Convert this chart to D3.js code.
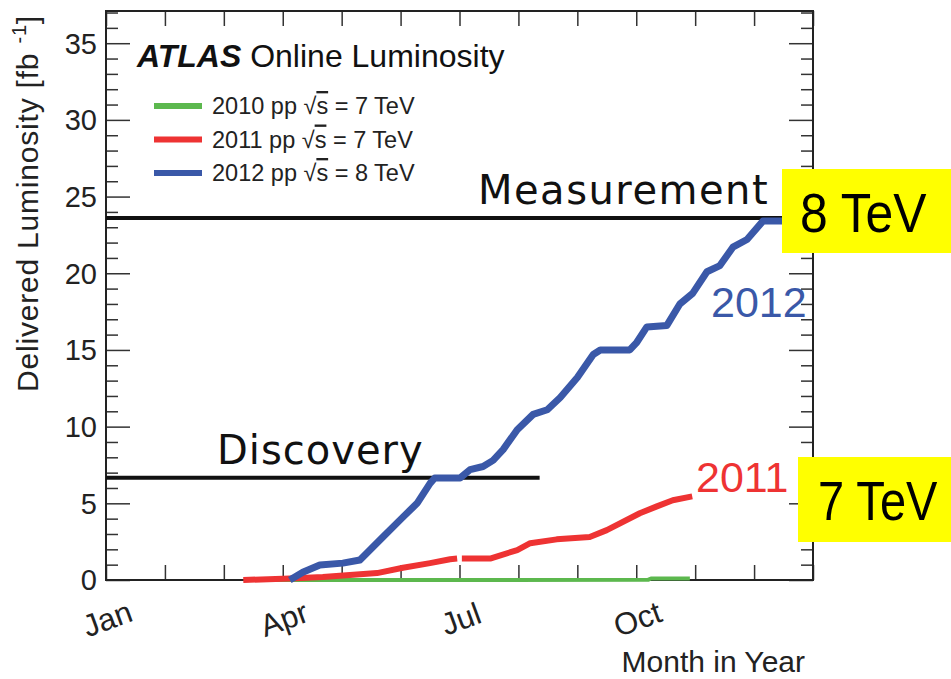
<!DOCTYPE html>
<html>
<head>
<meta charset="utf-8">
<script src="https://cdn.jsdelivr.net/npm/d3@7"></script>
<style>
  body { margin: 0; background: #fff; }
  svg text { font-family: "Liberation Sans", Arial, sans-serif; }
</style>
</head>
<body>
<script>
// delivered luminosity per year, x in months since Jan 1, y in fb^-1
// (null marks a gap in the curve)
var lumi2010 = [[2.90, 0], [5.0, 0], [9.20, 0.01], [9.25, 0.1], [9.91, 0.1]];
var lumi2011 = [[2.33, 0], [3.12, 0.1], [3.68, 0.2], [4.60, 0.45], [5.04, 0.8], [5.50, 1.1],
  [5.84, 1.35], [5.96, 1.4], null, [6.04, 1.4], [6.52, 1.4], [6.98, 1.95], [7.20, 2.4],
  [7.65, 2.65], [8.21, 2.8], [8.50, 3.25], [9.06, 4.35], [9.35, 4.8], [9.62, 5.2], [9.95, 5.45]];
var lumi2012 = [[3.12, 0], [3.34, 0.5], [3.63, 0.98], [4.02, 1.1], [4.31, 1.3], [4.70, 2.8],
  [5.04, 4.1], [5.28, 5.0], [5.50, 6.3], [5.58, 6.65], [6.01, 6.65], [6.18, 7.2], [6.40, 7.4],
  [6.57, 7.8], [6.74, 8.5], [6.98, 9.8], [7.25, 10.8], [7.49, 11.1], [7.71, 11.9], [8.00, 13.2],
  [8.27, 14.7], [8.39, 15.0], [8.89, 15.0], [9.01, 15.5], [9.18, 16.5], [9.52, 16.6], [9.74, 18.0],
  [9.96, 18.7], [10.20, 20.1], [10.42, 20.5], [10.64, 21.7], [10.88, 22.2], [11.15, 23.4], [11.52, 23.4]];

var legendLabels = ["2010 pp ", "2011 pp ", "2012 pp "];
var legendEnergy = [" = 7 TeV", " = 7 TeV", " = 8 TeV"];
var monthLabels = ["Jan", "Apr", "Jul", "Oct"];
var monthLabelPos = [0, 3, 6, 9];
var yMajor = [0, 5, 10, 15, 20, 25, 30, 35];

// reference lines: [name, level, end month]
var marks = [["Measurement", 23.6, 11.6], ["Discovery", 6.67, 7.36]];
var boxLabels = ["8 TeV", "7 TeV"];

var w = 951, h = 679;
var plotLeft = 106, plotRight = 813, plotTop = 11, plotBottom = 580;

var svg = d3.select("body").append("svg")
  .attr("width", w)
  .attr("height", h);

var x = d3.scaleLinear().domain([0, 12]).range([plotLeft, plotRight]);
var y = d3.scaleLinear().domain([0, 37.1]).range([plotBottom, plotTop]);

// ticks on all four sides
function styleTicks(g) {
  g.select(".domain").remove();
  g.selectAll("line").attr("stroke", "#333").attr("stroke-width", 1.5);
}

var yTicks = d3.range(0, 38);
svg.append("g")
  .attr("transform", "translate(" + plotLeft + ",0)")
  .call(d3.axisLeft(y).tickValues(yTicks).tickSize(0).tickFormat(""))
  .call(styleTicks)
  .selectAll(".tick line")
  .attr("x2", function(d) { return d % 5 == 0 ? 24 : 12; });

svg.append("g")
  .attr("transform", "translate(" + plotRight + ",0)")
  .call(d3.axisRight(y).tickValues(yTicks).tickSize(0).tickFormat(""))
  .call(styleTicks)
  .selectAll(".tick line")
  .attr("x2", function(d) { return d % 5 == 0 ? -24 : -12; });

svg.append("g")
  .attr("transform", "translate(0," + plotBottom + ")")
  .call(d3.axisBottom(x).ticks(12).tickSize(-15).tickFormat(""))
  .call(styleTicks);

svg.append("g")
  .attr("transform", "translate(0," + plotTop + ")")
  .call(d3.axisTop(x).ticks(12).tickSize(-15).tickFormat(""))
  .call(styleTicks);

// frame
svg.append("rect")
  .attr("x", plotLeft).attr("y", plotTop)
  .attr("width", plotRight - plotLeft).attr("height", plotBottom - plotTop)
  .attr("fill", "none")
  .attr("stroke", "#222")
  .attr("stroke-width", 2);

// y tick labels
svg.selectAll(".ylab")
  .data(yMajor)
  .enter().append("text")
  .attr("x", 97)
  .attr("y", function(d) { return y(d); })
  .attr("dy", "0.36em")
  .attr("text-anchor", "end")
  .style("font-size", "29px")
  .attr("fill", "#222")
  .text(function(d) { return d; });

// x tick labels, slanted
svg.selectAll(".xlab")
  .data(monthLabels)
  .enter().append("text")
  .attr("transform", function(d, i) {
    return "translate(" + (x(monthLabelPos[i]) + 5) + ",629) rotate(-20)";
  })
  .attr("text-anchor", "middle")
  .style("font-size", "31px")
  .attr("fill", "#222")
  .text(function(d) { return d; });

svg.append("text")
  .attr("x", 805).attr("y", 672)
  .attr("text-anchor", "end")
  .style("font-size", "30px")
  .attr("fill", "#222")
  .text("Month in Year");

// y axis title
var yTitle = svg.append("text")
  .attr("transform", "translate(38,392) rotate(-90)")
  .style("font-size", "30px")
  .style("letter-spacing", "0.8px")
  .attr("fill", "#222");
yTitle.append("tspan").text("Delivered Luminosity [fb ");
yTitle.append("tspan").attr("dy", -12).style("font-size", "20px").text("-1");
yTitle.append("tspan").attr("dy", 12).text("]");

// ATLAS title
var title = svg.append("text")
  .attr("x", 137).attr("y", 67)
  .style("font-size", "32px")
  .attr("fill", "#111");
title.append("tspan").style("font-weight", "bold").style("font-style", "italic").text("ATLAS");
title.append("tspan").text(" Online Luminosity");

// curves
var line = d3.line()
  .defined(function(d) { return d != null; })
  .x(function(d) { return x(d[0]); })
  .y(function(d) { return y(d[1]); });

var series = [lumi2010, lumi2011, lumi2012];
var colors = ["#5cb84e", "#ee3333", "#3a58a8"];
var widths = [4, 6, 7];

// reference lines
svg.selectAll(".mark")
  .data(marks)
  .enter().append("line")
  .attr("x1", x(0)).attr("x2", function(d) { return x(d[2]); })
  .attr("y1", function(d) { return y(d[1]); })
  .attr("y2", function(d) { return y(d[1]); })
  .attr("stroke", "#111")
  .attr("stroke-width", 4);

svg.selectAll(".curve")
  .data(series)
  .enter().append("path")
  .attr("d", line)
  .attr("fill", "none")
  .attr("stroke", function(d, i) { return colors[i]; })
  .attr("stroke-width", function(d, i) { return widths[i]; })
  .attr("stroke-linejoin", "round");

// annotation text over the lines
svg.append("text")
  .attr("x", 478).attr("y", 204)
  .style("font-family", "'Comic Sans MS', 'DejaVu Sans', sans-serif")
  .style("font-size", "40px")
  .style("letter-spacing", "1.5px")
  .attr("fill", "#111")
  .text(marks[0][0]);

svg.append("text")
  .attr("x", 217).attr("y", 464)
  .style("font-family", "'Comic Sans MS', 'DejaVu Sans', sans-serif")
  .style("font-size", "40px")
  .style("letter-spacing", "1px")
  .attr("fill", "#111")
  .text(marks[1][0]);

svg.append("text")
  .attr("x", 711).attr("y", 317)
  .style("font-size", "43px")
  .attr("fill", colors[2])
  .text("2012");

svg.append("text")
  .attr("x", 696).attr("y", 492)
  .style("font-size", "43px")
  .attr("fill", colors[1])
  .text("2011");

// legend
var legend = svg.selectAll(".legend")
  .data(legendLabels)
  .enter().append("g")
  .attr("transform", function(d, i) { return "translate(154," + (106 + i * 33.5) + ")"; });

legend.append("line")
  .attr("x1", 0).attr("x2", 48)
  .attr("stroke", function(d, i) { return colors[i]; })
  .attr("stroke-width", 6);

var lt = legend.append("text")
  .attr("x", 58).attr("y", 8)
  .style("font-size", "23.5px")
  .attr("fill", "#222");
lt.append("tspan").text(function(d) { return d + "\u221a"; });
lt.append("tspan").style("text-decoration", "overline").text("s");
lt.append("tspan").text(function(d, i) { return legendEnergy[i]; });

// yellow energy boxes
var boxes = [[782, 169, 169, 84, 800, 232, 0.89], [798, 457, 153, 85, 818, 520, 0.84]];
boxes.forEach(function(b, i) {
  svg.append("rect")
    .attr("x", b[0]).attr("y", b[1])
    .attr("width", b[2]).attr("height", b[3])
    .attr("fill", "#ffff00");
  svg.append("text")
    .attr("transform", "translate(" + b[4] + "," + b[5] + ") scale(" + b[6] + ",1)")
    .style("font-size", "56px")
    .attr("fill", "#000")
    .text(boxLabels[i]);
});
</script>
</body>
</html>
